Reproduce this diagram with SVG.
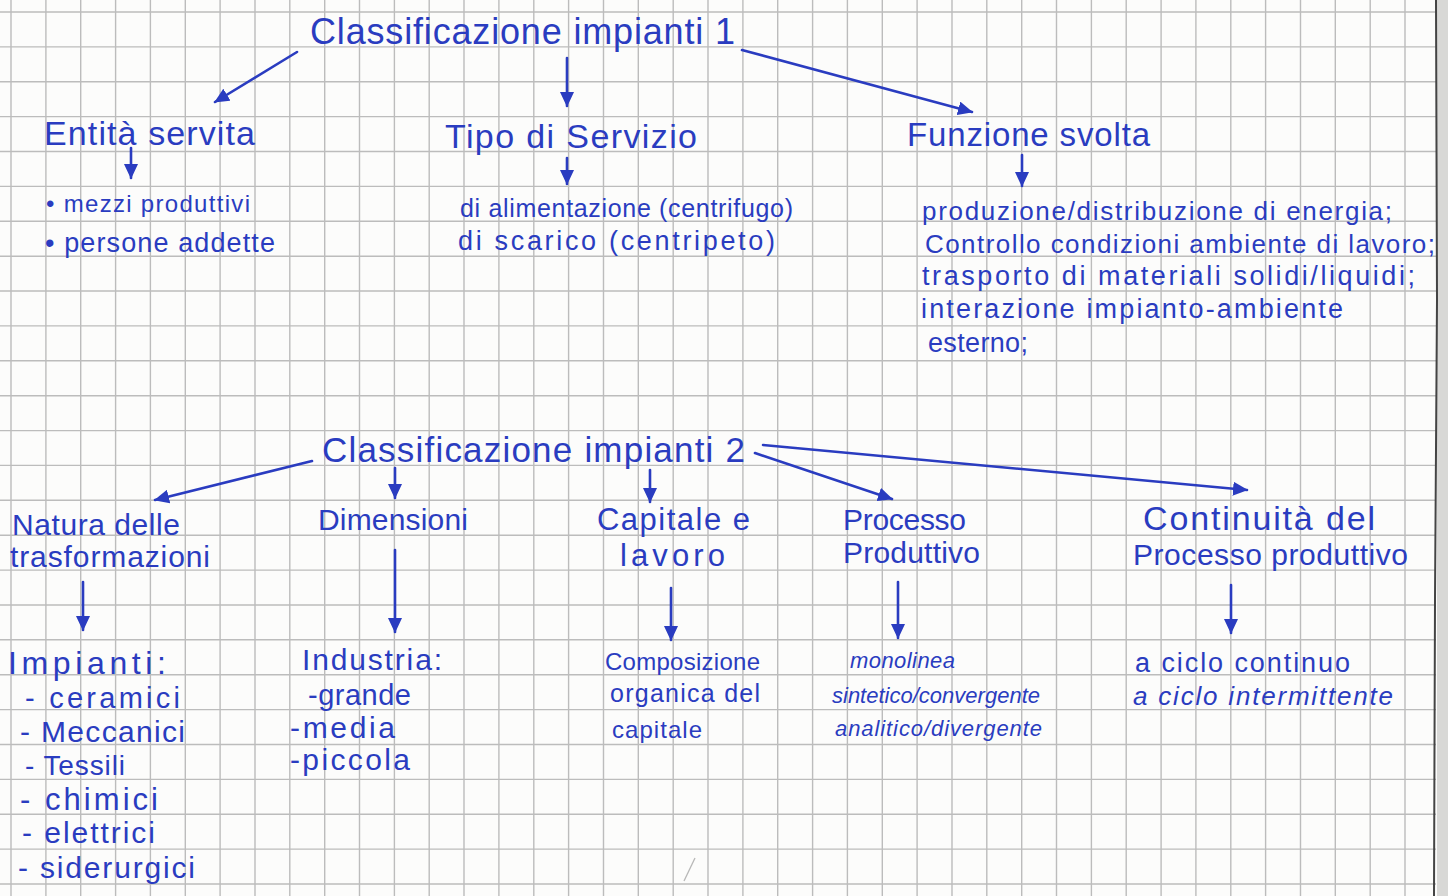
<svg xmlns="http://www.w3.org/2000/svg" width="1448" height="896" viewBox="0 0 1448 896">
<defs>
<style>
.t{font-family:"Liberation Sans",Arial,sans-serif;fill:#2a3cc0;}
.it{font-style:italic;}
.c{stroke:#2a3cc0;stroke-width:2.6;fill:none;stroke-linecap:round;marker-end:url(#ah);}
.grid{stroke:#bcbcbc;stroke-width:1.4;fill:none;}
</style>
<marker id="ah" markerWidth="16" markerHeight="14" refX="14" refY="7" orient="auto" markerUnits="userSpaceOnUse">
<path d="M0,0 L15,7 L0,14 z" fill="#2a3cc0"/>
</marker>
</defs>
<rect x="0" y="0" width="1448" height="896" fill="#fcfcfb"/>
<path class="grid" d="M11,0V896 M45.9,0V896 M80.7,0V896 M115.6,0V896 M150.4,0V896 M185.3,0V896 M220.1,0V896 M255,0V896 M289.8,0V896 M324.7,0V896 M359.5,0V896 M394.4,0V896 M429.2,0V896 M464,0V896 M498.9,0V896 M533.8,0V896 M568.6,0V896 M603.5,0V896 M638.3,0V896 M673.2,0V896 M708,0V896 M742.9,0V896 M777.7,0V896 M812.6,0V896 M847.4,0V896 M882.3,0V896 M917.1,0V896 M952,0V896 M986.8,0V896 M1021.7,0V896 M1056.5,0V896 M1091.4,0V896 M1126.2,0V896 M1161.1,0V896 M1195.9,0V896 M1230.8,0V896 M1265.6,0V896 M1300.5,0V896 M1335.3,0V896 M1370.2,0V896 M1405,0V896 M0,12H1436 M0,46.9H1436 M0,81.8H1436 M0,116.6H1436 M0,151.5H1436 M0,186.4H1436 M0,221.3H1436 M0,256.2H1436 M0,291H1436 M0,325.9H1436 M0,360.8H1436 M0,395.7H1436 M0,430.6H1436 M0,465.4H1436 M0,500.3H1436 M0,535.2H1436 M0,570.1H1436 M0,605H1436 M0,639.8H1436 M0,674.7H1436 M0,709.6H1436 M0,744.5H1436 M0,779.4H1436 M0,814.2H1436 M0,849.1H1436 M0,884H1436"/>
<rect x="1437" y="0" width="11" height="896" fill="#d8d8d6"/>
<path d="M1436,0 L1437,300 L1435,600 L1434,896" stroke="#444" stroke-width="2" fill="none"/>
<path d="M684,881 L695,858" stroke="#8a8a8a" stroke-width="1.3" opacity="0.6"/>

<g id="connectors">
<path class="c" d="M297,52 L215,102"/>
<path class="c" d="M567,58 L567,106"/>
<path class="c" d="M742,50 L972,112"/>
<path class="c" d="M131,148 L131,178"/>
<path class="c" d="M567,158 L567,184"/>
<path class="c" d="M1022,155 L1022,186"/>
<path class="c" d="M312,461 L155,500"/>
<path class="c" d="M395,468 L395,498"/>
<path class="c" d="M650,470 L650,502"/>
<path class="c" d="M755,453 L892,499"/>
<path class="c" d="M763,445 L1247,490"/>
<path class="c" d="M83,582 L83,630"/>
<path class="c" d="M395,550 L395,632"/>
<path class="c" d="M671,588 L671,640"/>
<path class="c" d="M898,582 L898,638"/>
<path class="c" d="M1231,585 L1231,633"/>
</g>

<g id="root1"><text class="t" x="310" y="44" font-size="36" textLength="425">Classificazione impianti 1</text></g>
<g id="entita"><text class="t" x="44" y="145" font-size="34" textLength="211">Entità servita</text></g>
<g id="entita-items">
<text class="t" x="46" y="212" font-size="24" textLength="204">• mezzi produttivi</text>
<text class="t" x="45" y="252" font-size="27" textLength="230">• persone addette</text>
</g>
<g id="tipo"><text class="t" x="445" y="148" font-size="34" textLength="252">Tipo di Servizio</text></g>
<g id="tipo-items">
<text class="t" x="460" y="217" font-size="25" textLength="333">di alimentazione (centrifugo)</text>
<text class="t" x="458" y="250" font-size="27" textLength="317">di scarico (centripeto)</text>
</g>
<g id="funzione"><text class="t" x="907" y="146" font-size="33" textLength="243">Funzione svolta</text></g>
<g id="funzione-items">
<text class="t" x="922" y="220" font-size="26" textLength="470">produzione/distribuzione di energia;</text>
<text class="t" x="925" y="253" font-size="26" textLength="510">Controllo condizioni ambiente di lavoro;</text>
<text class="t" x="922" y="285" font-size="27" textLength="493">trasporto di materiali solidi/liquidi;</text>
<text class="t" x="921" y="318" font-size="27" textLength="422">interazione impianto-ambiente</text>
<text class="t" x="928" y="352" font-size="27" textLength="100">esterno;</text>
</g>

<g id="root2"><text class="t" x="322" y="462" font-size="35" textLength="423">Classificazione impianti 2</text></g>
<g id="natura">
<text class="t" x="12" y="535" font-size="30" textLength="168">Natura delle</text>
<text class="t" x="10" y="567" font-size="30" textLength="200">trasformazioni</text>
</g>
<g id="natura-items">
<text class="t" x="8" y="674" font-size="32" textLength="158">Impianti:</text>
<text class="t" x="25" y="708" font-size="29" textLength="155">- ceramici</text>
<text class="t" x="20" y="742" font-size="30" textLength="165">- Meccanici</text>
<text class="t" x="25" y="775" font-size="28" textLength="100">- Tessili</text>
<text class="t" x="20" y="810" font-size="31" textLength="138">- chimici</text>
<text class="t" x="22" y="843" font-size="30" textLength="133">- elettrici</text>
<text class="t" x="18" y="878" font-size="30" textLength="177">- siderurgici</text>
</g>
<g id="dimensioni"><text class="t" x="318" y="530" font-size="30" textLength="150">Dimensioni</text></g>
<g id="dimensioni-items">
<text class="t" x="302" y="670" font-size="30" textLength="140">Industria:</text>
<text class="t" x="308" y="705" font-size="29" textLength="103">-grande</text>
<text class="t" x="290" y="738" font-size="30" textLength="105">-media</text>
<text class="t" x="290" y="770" font-size="30" textLength="120">-piccola</text>
</g>
<g id="capitale">
<text class="t" x="597" y="530" font-size="31" textLength="153">Capitale e</text>
<text class="t" x="620" y="566" font-size="31" textLength="105">lavoro</text>
</g>
<g id="capitale-items">
<text class="t" x="605" y="670" font-size="24" textLength="155">Composizione</text>
<text class="t" x="610" y="702" font-size="25" textLength="150">organica del</text>
<text class="t" x="612" y="738" font-size="24" textLength="90">capitale</text>
</g>
<g id="processo">
<text class="t" x="843" y="530" font-size="30" textLength="123">Processo</text>
<text class="t" x="843" y="563" font-size="30" textLength="137">Produttivo</text>
</g>
<g id="processo-items">
<text class="t it" x="850" y="668" font-size="22" textLength="105">monolinea</text>
<text class="t it" x="832" y="703" font-size="22" textLength="208">sintetico/convergente</text>
<text class="t it" x="835" y="736" font-size="22" textLength="207">analitico/divergente</text>
</g>
<g id="continuita">
<text class="t" x="1143" y="530" font-size="34" textLength="232">Continuità del</text>
<text class="t" x="1133" y="565" font-size="30" textLength="275">Processo produttivo</text>
</g>
<g id="continuita-items">
<text class="t" x="1135" y="672" font-size="27" textLength="215">a ciclo continuo</text>
<text class="t it" x="1133" y="705" font-size="26" textLength="260">a ciclo intermittente</text>
</g>
</svg>
